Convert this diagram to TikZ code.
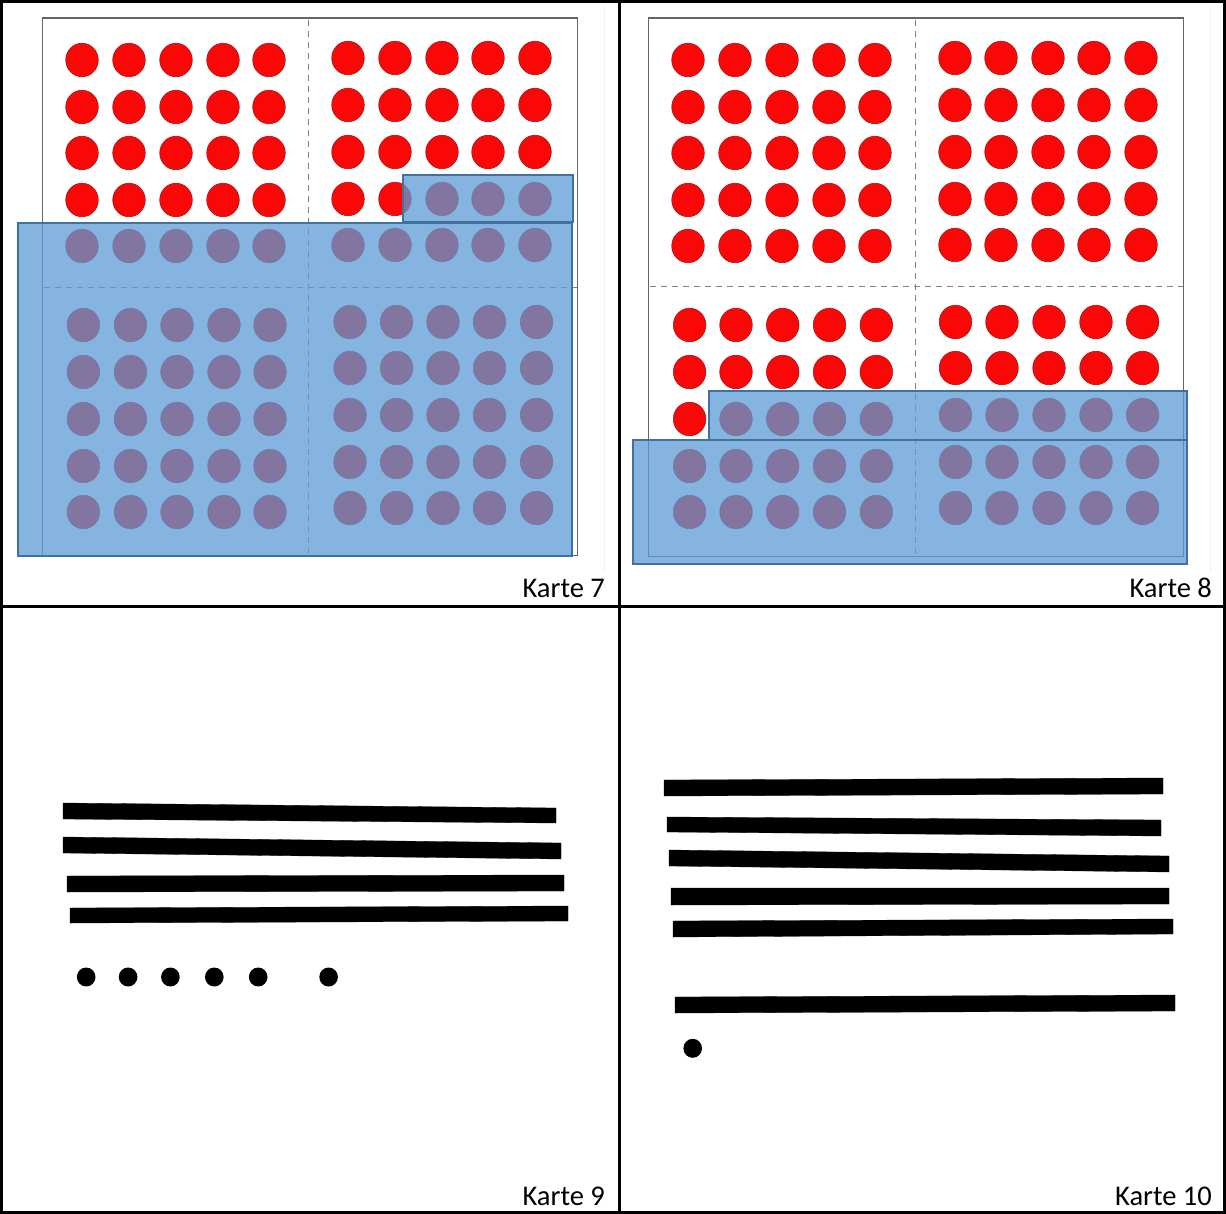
\documentclass[tikz,border=0pt]{standalone}
\usepackage{fontspec}
\setmainfont{Carlito}
\definecolor{dotred}{RGB}{250,8,8}
\definecolor{dotedge}{RGB}{150,20,20}
\definecolor{ovfill}{RGB}{91,155,213}
\definecolor{ovedge}{RGB}{65,113,156}
\definecolor{cardedge}{RGB}{100,100,100}
\tikzset{
  tableline/.style={line width=3pt, black},
  carddraw/.style={draw=cardedge, line width=1pt},
  carddash/.style={draw=gray, line width=0.9pt, dash pattern=on 6pt off 5pt},
  reddot/.style={fill=dotred, draw=dotedge, line width=0.5pt},
  overlay/.style={fill=ovfill, fill opacity=0.75, draw=ovedge, line width=2.5pt, draw opacity=1},
  bar/.style={fill=black, draw=black, line width=0.3pt},
  smalldot/.style={fill=black},
  cardlabel/.style={font=\fontsize{28.5}{32}\selectfont, inner sep=0pt, anchor=base east},
  faint/.style={draw=gray!12, line width=1pt}
}
\begin{document}
\begin{tikzpicture}[x=1pt,y=-1pt]
\useasboundingbox (0,0) rectangle (1226,1214);
\fill[white] (0,0) rectangle (1226,1214);

% faint image edges
\draw[faint] (604,6) -- (604,572);
\draw[faint] (1210,6) -- (1210,572);

% ---------- Karte 7 ----------
\draw[carddraw] (42,18) rectangle (577,555);
\draw[cardedge, line width=1.6pt] (42,18) -- (577,18);
\draw[carddash] (308,20) -- (308,555);
\draw[carddash] (44,287) -- (577,287);
\foreach \x in {82,129,176,223,269}{
  \foreach \y in {60,107,153,200,246}{
    \fill[reddot] (\x,\y) ellipse [x radius=16.3, y radius=16.8];}}
\foreach \x in {348,395,442,488,535}{
  \foreach \y in {58,105,152,199,245}{
    \fill[reddot] (\x,\y) ellipse [x radius=16.3, y radius=16.8];}}
\foreach \x in {83.4,130.5,177,224,270}{
  \foreach \y in {325,372,419,466,512}{
    \fill[reddot] (\x,\y) ellipse [x radius=16.3, y radius=16.8];}}
\foreach \x in {350,396.6,443,489.5,536.6}{
  \foreach \y in {322,368,415,462,508}{
    \fill[reddot] (\x,\y) ellipse [x radius=16.3, y radius=16.8];}}
\path[overlay] (403,175) rectangle (573,222);
\path[overlay] (18,223) rectangle (572,556);
\node[cardlabel] (k7) at (605,597) {Karte 7};

% ---------- Karte 8 ----------
\draw[carddraw] (648,18) rectangle (1183,556);
\draw[cardedge, line width=1.6pt] (648,18) -- (1183,18);
\draw[carddash] (915,20) -- (915,556);
\draw[carddash] (650,286) -- (1183,286);
\foreach \x in {688,735,782,829,875}{
  \foreach \y in {60,107,153,200,246}{
    \fill[reddot] (\x,\y) ellipse [x radius=16.3, y radius=16.8];}}
\foreach \x in {955,1001,1048,1094,1141}{
  \foreach \y in {58,105,152,199,245}{
    \fill[reddot] (\x,\y) ellipse [x radius=16.3, y radius=16.8];}}
\foreach \x in {689.6,736,782.7,829.5,876.3}{
  \foreach \y in {325,372,419,466,512}{
    \fill[reddot] (\x,\y) ellipse [x radius=16.3, y radius=16.8];}}
\foreach \x in {955.5,1002,1049,1096,1142.6}{
  \foreach \y in {322,368,415,462,508}{
    \fill[reddot] (\x,\y) ellipse [x radius=16.3, y radius=16.8];}}
\path[overlay] (709,391) rectangle (1187,440);
\path[overlay] (633,440) rectangle (1187,564);
\node[cardlabel] (k8) at (1212,597) {Karte 8};

% ---------- Karte 9 ----------
\filldraw[bar] (63,803) -- (556,808) -- (556,823) -- (63,819) -- cycle;
\filldraw[bar] (63,837) -- (561,843) -- (561,859) -- (63,853) -- cycle;
\filldraw[bar] (67,876) -- (564,875) -- (564,891) -- (67,892) -- cycle;
\filldraw[bar] (70,908) -- (568,906) -- (568,921) -- (70,923) -- cycle;
\foreach \x in {86.2,128.1,170.4,214.3,258.2,328.6}{
  \fill[smalldot] (\x,977) ellipse [x radius=9.3, y radius=9.5];}
\node[cardlabel] (k9) at (605,1205) {Karte 9};

% ---------- Karte 10 ----------
\filldraw[bar] (664,780) -- (1163,778) -- (1163,794) -- (664,796) -- cycle;
\filldraw[bar] (667,817) -- (1161,820) -- (1161,836) -- (667,832) -- cycle;
\filldraw[bar] (669,850) -- (1169,856) -- (1169,872) -- (669,866) -- cycle;
\filldraw[bar] (671,888) -- (1169,888) -- (1169,904) -- (671,905) -- cycle;
\filldraw[bar] (673,921) -- (1173,919) -- (1173,934) -- (673,937) -- cycle;
\filldraw[bar] (675,997) -- (1175,995) -- (1175,1011) -- (675,1013) -- cycle;
\fill[smalldot] (692.7,1048.3) ellipse [x radius=9.3, y radius=9.5];
\node[cardlabel] (k10) at (1212,1205) {Karte 10};

% ---------- table lines ----------
\draw[tableline] (1.5,1.5) rectangle (1224.5,1212.5);
\draw[tableline] (619.5,0) -- (619.5,1214);
\draw[tableline] (0,606.5) -- (1226,606.5);
\end{tikzpicture}
\end{document}
